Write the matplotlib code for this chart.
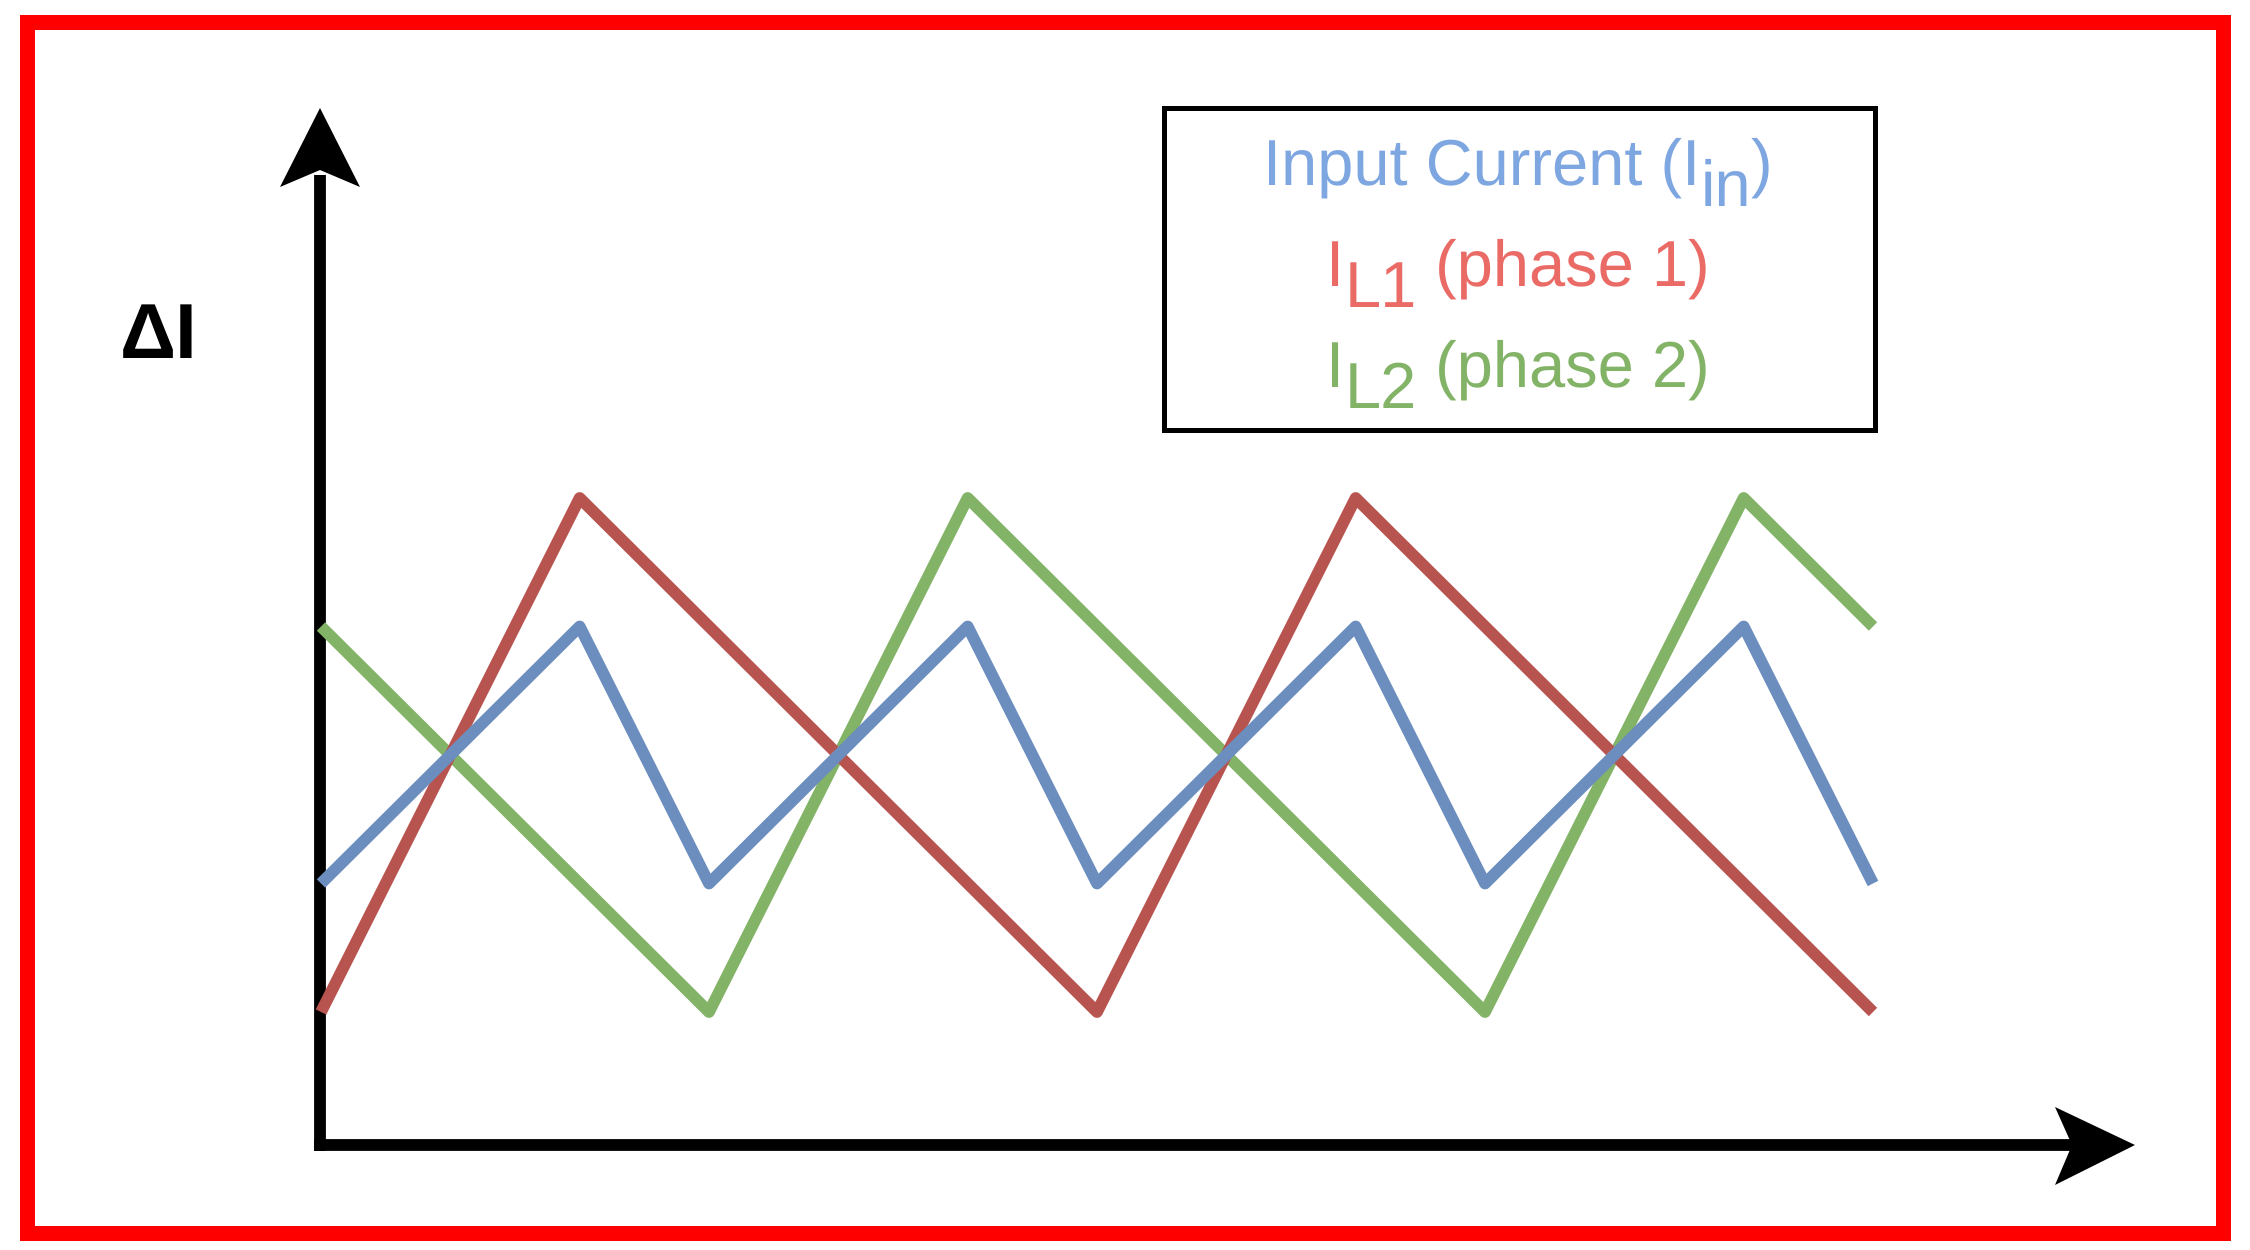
import matplotlib.pyplot as plt
from matplotlib.patches import Rectangle, Polygon

plt.rcParams['text.hinting'] = 'none'
plt.rcParams['text.hinting_factor'] = 1
plt.rcParams['text.kerning_factor'] = 0

# waveform corner points (time in switching units, current normalised 0..1)
t_in = [0, 1, 1.5, 2.5, 3, 4, 4.5, 5.5, 6]
i_in = [0.25, 0.75, 0.25, 0.75, 0.25, 0.75, 0.25, 0.75, 0.25]
t_l1 = [0, 1, 3, 4, 6]
i_l1 = [0, 1, 0, 1, 0]
t_l2 = [0, 1.5, 2.5, 4.5, 5.5, 6]
i_l2 = [0.75, 0, 1, 0, 1, 0.75]

# legend rows: (text, lowered by px)
legend_lines = [
    [("Input Current (I", 0), ("in", 21), (")", 0)],
    [("I", 0), ("L1", 21), (" (phase 1)", 0)],
    [("I", 0), ("L2", 21), (" (phase 2)", 0)],
]
text_cols = ["#7EA6E0", "#EA6B66", "#82B366"]
line_cols = ["#6C8EBF", "#B85450", "#82B366"]

W, H = 2250, 1250
fig = plt.figure(figsize=(22.5, 12.5), dpi=100)
fig.patch.set_facecolor("white")

# overlay in pixel coordinates for frame, arrows and legend box
ax0 = fig.add_axes([0, 0, 1, 1])
ax0.set_xlim(0, W)
ax0.set_ylim(H, 0)
ax0.axis("off")

ax0.add_patch(Rectangle((26.5, 22), 2196, 1210.5, fill=False, ec="#FF0000", lw=10.8))

# axes with arrow heads
ax0.plot([320, 320], [1151, 175], color="black", lw=8.5, solid_capstyle="butt")
ax0.plot([314, 2075], [1145, 1145], color="black", lw=8.5, solid_capstyle="butt")
ax0.add_patch(Polygon([(320, 108), (360, 187), (320, 170), (280, 187)], closed=True, fc="black", ec="none"))
ax0.add_patch(Polygon([(2135, 1145), (2055, 1185), (2072, 1145), (2055, 1107)], closed=True, fc="black", ec="none"))

ax0.text(120, 358, "ΔI", fontsize=56, fontweight="bold", family="Liberation Sans", va="baseline", ha="left")

# legend box
ax0.add_patch(Rectangle((1163.5, 107.5), 711, 322, fill=False, ec="black", lw=3.6))

fig.canvas.draw()
renderer = fig.canvas.get_renderer()
baselines = [185, 286, 387]
cx = 1518
for pieces, base, col in zip(legend_lines, baselines, text_cols):
    txts = []
    for s, dy in pieces:
        t = ax0.text(0, base + dy, s, fontsize=47, family="Liberation Sans", color=col, va="baseline", ha="left")
        txts.append(t)
    widths = [t.get_window_extent(renderer).width for t in txts]
    x = cx - sum(widths) / 2
    for t, w in zip(txts, widths):
        t.set_x(x)
        x += w

# waveforms
ax = fig.add_axes([321 / W, 1 - 1012 / H, (1873 - 321) / W, (1012 - 498) / H])
ax.set_xlim(0, 6)
ax.set_ylim(0, 1)
ax.axis("off")
ax.patch.set_alpha(0)
ax.plot(t_l2, i_l2, color=line_cols[2], lw=8.5, clip_on=False, solid_capstyle="butt")
ax.plot(t_l1, i_l1, color=line_cols[1], lw=8.5, clip_on=False, solid_capstyle="butt")
ax.plot(t_in, i_in, color=line_cols[0], lw=8.5, clip_on=False, solid_capstyle="butt")

fig.savefig("out.png", dpi=100)
